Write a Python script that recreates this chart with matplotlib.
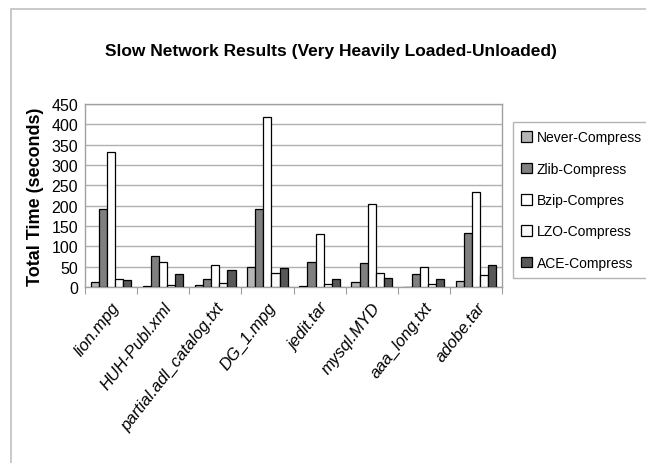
import matplotlib
matplotlib.use("Agg")
import matplotlib.pyplot as plt
import numpy as np

plt.rcParams['font.family'] = ['Liberation Sans', 'DejaVu Sans']

files = ["lion.mpg", "HUH-Publ.xml", "partial.adl_catalog.txt", "DG_1.mpg",
         "jedit.tar", "mysql.MYD", "aaa_long.txt", "adobe.tar"]
series_names = ["Never-Compress", "Zlib-Compress", "Bzip-Compres", "LZO-Compress", "ACE-Compress"]

never_compress = [12, 3, 6, 50, 3, 12, 0, 15]
zlib_compress = [192, 77, 19, 192, 62, 58, 31, 134]
bzip_compress = [331, 61, 54, 418, 131, 204, 50, 234]
lzo_compress = [19, 6, 9, 34, 7, 35, 8, 30]
ace_compress = [16, 31, 42, 47, 19, 23, 19, 54]

colors = ["#b4b4b4", "#808080", "#ffffff", "#fafafa", "#585858"]

fig = plt.figure(figsize=(6.46, 4.64), dpi=100)
ax = fig.add_axes([0.1316, 0.3793, 0.6455, 0.3944])

x = np.arange(len(files))
width = 0.155
all_series = [never_compress, zlib_compress, bzip_compress, lzo_compress, ace_compress]
for i, (vals, name) in enumerate(zip(all_series, series_names)):
    ax.bar(x + (i - 2) * width, vals, width, color=colors[i], edgecolor="black",
           linewidth=0.9, label=name, zorder=3)

ax.set_xlim(-0.5, len(files) - 0.5)
ax.set_ylim(0, 450)
ax.set_yticks(range(0, 451, 50))
ax.yaxis.grid(True, color="#b0b0b0", linewidth=1.0, zorder=0)
for s in ax.spines.values():
    s.set_color("#a0a0a0")
    s.set_linewidth(1.0)

# ticks between groups, labels at group centres
ax.set_xticks(np.arange(-0.5, len(files), 1.0))
ax.set_xticklabels([])
ax.set_xticks(x, minor=True)
ax.set_xticklabels(files, minor=True, rotation=52, ha="right", va="top",
                   rotation_mode="anchor", fontsize=12, style="italic")
ax.tick_params(axis="x", which="minor", length=0, pad=9)
ax.tick_params(axis="x", which="major", length=5, color="#a0a0a0", direction="out")
ax.tick_params(axis="y", length=0, labelsize=11.5, pad=5)

ax.set_ylabel("Total Time (seconds)", fontsize=13, fontweight="bold", labelpad=5)

fig.text(0.512, 0.89, "Slow Network Results (Very Heavily Loaded-Unloaded)",
         ha="center", va="center", fontsize=12.5, fontweight="bold")

leg = fig.legend(loc="upper left", bbox_to_anchor=(0.794, 0.735), fontsize=10,
                 frameon=True, fancybox=False, edgecolor="#a0a0a0",
                 handlelength=0.8, handleheight=0.8, handletextpad=0.3,
                 labelspacing=1.25, borderpad=0.6, borderaxespad=0)
leg.get_frame().set_linewidth(1.0)

# outer chart border
fig.add_artist(plt.Rectangle((0.017, -0.05), 1.2, 1.028, transform=fig.transFigure,
                             fill=False, edgecolor="#c0c0c0", linewidth=1.2))

fig.savefig("out.png", dpi=100)
